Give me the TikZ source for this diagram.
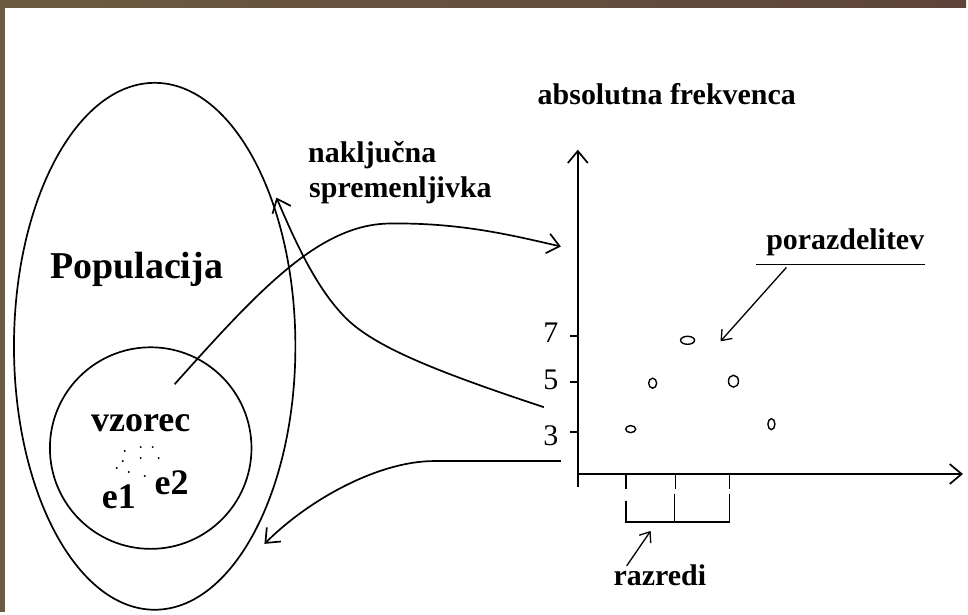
\documentclass[tikz,border=0pt]{standalone}
\usepackage{fontspec}
\setmainfont{Liberation Serif}
\usetikzlibrary{arrows.meta}
\definecolor{frameleft}{RGB}{108,91,66}
\definecolor{frameright}{RGB}{94,68,58}
\begin{document}
\begin{tikzpicture}[x=1pt, y=-1pt, line width=1.7pt, >={Straight Barb[length=12pt,width=20pt]},
    lbl/.style={font=\fontsize{30}{32}\selectfont\bfseries, inner sep=0pt, anchor=base west},
    bigl/.style={font=\fontsize{38}{40}\selectfont\bfseries, inner sep=0pt, anchor=base},
    midl/.style={font=\fontsize{36}{38}\selectfont\bfseries, inner sep=0pt, anchor=base},
    num/.style={font=\fontsize{30}{32}\selectfont, inner sep=0pt},
    datapt/.style={line width=1.4pt},
    small/.style={>={Straight Barb[length=9pt,width=14pt]}}]
    \shade[left color=frameleft, right color=frameright] (0,0) rectangle (968,613);
    \fill[white] (5,8) rectangle (970,616);
    \useasboundingbox (0,0) rectangle (968,613);

    \draw (155,347) ellipse [x radius=141pt, y radius=264pt];
    \draw (151,449) circle [radius=101pt];

    \node[bigl] (pop) at (137,279) {Populacija};
    \node[midl] (vz) at (141,432) {vzorec};
    \node[midl] (e1) at (119,510) {e1};
    \node[midl] (e2) at (172,496) {e2};
    \foreach \px/\py in {125/452, 141/448, 153/448, 123/462, 141/459, 159/459, 117/469, 129/473, 145/477}
        \fill (\px,\py) circle [radius=1.1pt];

    \node[lbl] (nak) at (308,163) {naklju\v{c}na};
    \node[lbl] (spr) at (309,198) {spremenljivka};
    \node[lbl] (abs) at (538,105) {absolutna frekvenca};
    \node[lbl] (por) at (767,250) {porazdelitev};
    \node[lbl] (raz) at (614,587) {razredi};
    \draw (758,265) -- (927,265);

    \coordinate (ybot) at (579,488);
    \coordinate (ytop) at (579,150);
    \coordinate (xbeg) at (579,475);
    \coordinate (xend) at (965,475);
    \draw[->] (ybot) -- (ytop);
    \draw[->] (xbeg) -- (xend);

    \foreach \yy/\ly/\v in {337/333/7, 383/381/5, 433/437/3} {
        \draw (571,\yy) -- (579,\yy);
        \node[num] (lab\v) at (552,\ly) {\v};
    }
    \foreach \xx in {627, 677, 731}
        \draw (\xx,476) -- (\xx,490);
    \draw (627,502) -- (627,523) -- (731,523) -- (731,495);
    \draw (676,495) -- (676,523);

    \foreach \px/\py/\rx/\ry in {632/430/5/3.5, 654/384/4/5, 689/341/7/4, 735/382/5/6, 773/425/3.5/5.5}
        \draw[datapt] (\px,\py) ellipse [x radius=\rx pt, y radius=\ry pt];

    \coordinate (vzout) at (175,385);
    \coordinate (axin) at (562,247);
    \draw[->] (vzout) .. controls (260,290) and (320,225) .. (390,224)
        .. controls (460,223) and (510,235) .. (axin);

    \coordinate (axmid) at (545,408);
    \coordinate (popin) at (277,198);
    \draw[->] (axmid) .. controls (430,370) and (370,345) .. (343,315)
        .. controls (315,285) and (295,240) .. (popin);

    \coordinate (axlow) at (562,462);
    \coordinate (popout) at (265,545);
    \draw[->] (axlow) -- (435,462) .. controls (380,462) and (310,500) .. (popout);

    \coordinate (porfrom) at (788,268);
    \coordinate (porto) at (722,342);
    \draw[->, small, line width=1.3pt] (porfrom) -- (porto);
    \coordinate (razfrom) at (628,567);
    \coordinate (razto) at (652,532);
    \draw[->, small, line width=1.3pt] (razfrom) -- (razto);
\end{tikzpicture}
\end{document}
